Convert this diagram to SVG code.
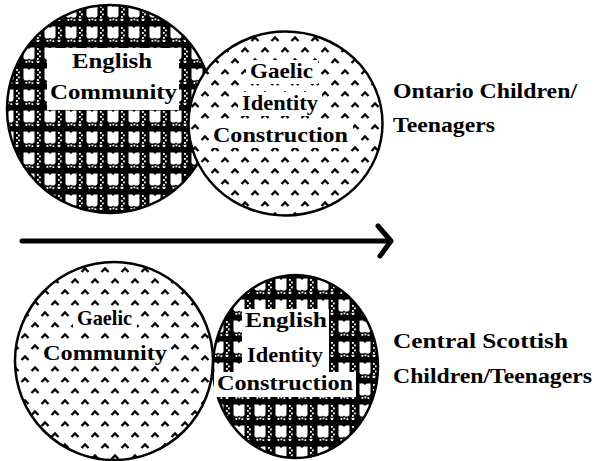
<svg xmlns="http://www.w3.org/2000/svg" width="595" height="461" viewBox="0 0 595 461">
<style>
.t{font-family:"Liberation Serif","DejaVu Serif",serif;font-size:22px;font-weight:bold;fill:#000}
.l{font-family:"Liberation Serif","DejaVu Serif",serif;font-size:20px;font-weight:bold;fill:#000}
.c{stroke:#000;stroke-width:2.5}
.eng{fill:url(#eng)}
.gae{fill:url(#gae)}
.w{fill:#fff}
</style>
<defs>
<pattern id="eng" patternUnits="userSpaceOnUse" width="21" height="21">
<rect width="21" height="21" fill="#000"/>
<path d="M2.5,5.5 h3.8 l1.7,1.5 l1.7,-1.5 h3.8 v10.5 l-1.5,1.5 h-3 l-1,-1 l-1,1 h-3 l-1.5,-1.5 z" fill="#fff"/>
<g fill="#fff">
<rect x="16" y="6" width="1.8" height="1.8"/>
<rect x="18" y="8.5" width="1.8" height="1.8"/>
<rect x="16" y="11" width="1.8" height="1.8"/>
<rect x="18" y="13.5" width="1.8" height="1.8"/>
<rect x="16" y="16" width="1.8" height="1.8"/>
<rect x="4.5" y="19" width="1.8" height="1.8"/>
<rect x="7.5" y="18.5" width="1.8" height="1.8"/>
<rect x="10.5" y="19.3" width="1.8" height="1.8"/>
<path d="M16,18.5 l1,1 l1,-1 l0.8,0.8 l-1,1 l1,1 l-0.8,0.8 l-1,-1 l-1,1 l-0.8,-0.8 l1,-1 l-1,-1 z"/>
</g>
</pattern>
<pattern id="gae" patternUnits="userSpaceOnUse" width="20" height="22">
<rect width="20" height="22" fill="#fff"/>
<path d="M1.5,8 L5,4.5 L8.5,8 M11.5,19 L15,15.5 L18.5,19" fill="none" stroke="#000" stroke-width="2.4"/>
</pattern>
</defs>

<g id="english-community">
<ellipse class="c eng" cx="110" cy="109" rx="103" ry="104"/>
<rect class="w" x="47" y="48" width="132" height="62"/>
<text class="t" x="72" y="68" textLength="80" lengthAdjust="spacingAndGlyphs">English</text>
<text class="t" x="50" y="99" textLength="127" lengthAdjust="spacingAndGlyphs">Community</text>
</g>

<g id="gaelic-identity">
<ellipse class="c gae" cx="285.5" cy="123.5" rx="97" ry="92"/>
<rect class="w" x="246" y="60" width="72" height="24"/>
<rect class="w" x="238" y="92" width="84" height="24"/>
<rect class="w" x="209" y="124" width="144" height="24"/>
<text class="t" x="250" y="78" textLength="63" lengthAdjust="spacingAndGlyphs">Gaelic</text>
<text class="t" x="242" y="110" textLength="76" lengthAdjust="spacingAndGlyphs">Identity</text>
<text class="t" x="213" y="142" textLength="135" lengthAdjust="spacingAndGlyphs">Construction</text>
</g>

<g id="ontario-label">
<text class="l" x="393" y="98" textLength="184" lengthAdjust="spacingAndGlyphs">Ontario Children/</text>
<text class="l" x="393" y="132" textLength="102" lengthAdjust="spacingAndGlyphs">Teenagers</text>
</g>

<g id="connectors">
<path d="M22,241 H389" fill="none" stroke="#000" stroke-width="5" stroke-linecap="round"/>
<path d="M378,226 L391,241 L380,256" fill="none" stroke="#000" stroke-width="5" stroke-linecap="round" stroke-linejoin="round"/>
</g>

<g id="gaelic-community">
<ellipse class="c gae" cx="114" cy="361" rx="99" ry="99"/>
<rect class="w" x="73" y="306" width="64" height="24"/>
<rect class="w" x="39" y="341" width="132" height="24"/>
<text class="t" x="77" y="325" textLength="55" lengthAdjust="spacingAndGlyphs">Gaelic</text>
<text class="t" x="43" y="360" textLength="124" lengthAdjust="spacingAndGlyphs">Community</text>
</g>

<g id="english-identity">
<ellipse class="c eng" cx="295.5" cy="366.5" rx="82.5" ry="91.5"/>
<path class="w" d="M242,309 H329 V372 H356 V397 H214 V372 H242 Z"/>
<text class="t" x="245" y="327" textLength="82" lengthAdjust="spacingAndGlyphs">English</text>
<text class="t" x="247" y="362" textLength="76" lengthAdjust="spacingAndGlyphs">Identity</text>
<text class="t" x="217" y="390" textLength="136" lengthAdjust="spacingAndGlyphs">Construction</text>
</g>

<g id="scottish-label">
<text class="l" x="393" y="348" textLength="175" lengthAdjust="spacingAndGlyphs">Central Scottish</text>
<text class="l" x="393" y="383" textLength="199" lengthAdjust="spacingAndGlyphs">Children/Teenagers</text>
</g>
</svg>
